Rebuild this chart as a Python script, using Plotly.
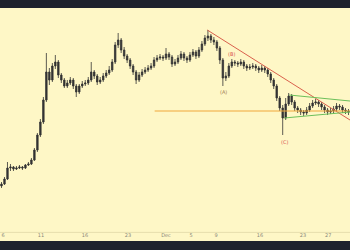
import plotly.graph_objects as go

# OHLC data (one candle per period)
opens = [64,66,71,82,83,81,82,83,82,85,86,90,100,115,128,150,178,170,184,188,
         175,170,164,167,170,164,158,164,166,167,170,178,174,168,170,174,177,180,188,205,
         210,200,194,190,184,178,170,175,178,180,182,184,190,192,193,192,196,193,186,188,
         192,196,192,190,195,198,194,200,206,212,214,210,208,202,190,172,174,184,188,187,
         186,188,184,182,183,184,182,180,182,180,176,170,164,152,142,132,146,154,148,142,
         140,138,137,140,144,147,148,146,143,140,138,139,141,144,143,140,139]
closes = [66,71,82,83,81,82,83,82,85,86,90,100,115,128,150,178,170,184,188,175,
          170,164,167,170,164,158,164,166,167,170,178,174,168,170,174,177,180,188,205,210,
          200,194,190,184,178,170,175,178,180,182,184,190,192,193,192,196,193,186,188,192,
          196,192,190,195,198,194,200,206,212,214,210,208,202,190,172,174,184,188,187,186,
          188,184,182,183,184,182,180,182,180,176,170,164,152,142,132,146,154,148,142,140,
          138,137,140,144,147,148,146,143,140,138,139,141,144,143,140,139,138]
highs = [68,73,88,86,84,84,85,84,86,88,92,102,117,131,153,197,182,187,195,190,
         177,172,170,173,172,166,166,169,170,173,188,180,176,173,177,180,184,191,208,217,
         212,203,196,192,186,180,178,181,183,185,187,193,195,196,195,202,198,195,191,195,
         199,198,194,198,201,200,203,209,215,220,216,213,210,204,192,178,187,191,190,189,
         191,190,186,186,187,186,184,185,184,182,178,172,166,154,145,152,157,156,150,144,
         142,140,143,147,150,151,150,148,145,142,142,144,147,146,145,142,141]
lows = [62,65,70,79,79,80,81,80,81,84,85,89,98,113,126,148,165,168,181,172,
        167,162,162,165,161,153,156,162,164,165,168,171,165,166,168,172,175,178,186,202,
        197,191,187,181,175,166,168,173,176,178,180,182,188,190,189,190,190,183,184,186,
        190,189,187,188,193,191,192,198,204,209,207,205,199,186,164,169,172,182,184,183,
        184,181,179,180,181,179,177,178,177,173,167,161,149,139,115,130,144,145,139,137,
        135,134,135,138,142,145,143,140,137,135,136,137,139,140,137,136,135]

tick_pos = [0.5, 13.2, 27.9, 42.3, 55.0, 63.4, 71.7, 86.4, 100.8, 109.2]
tick_labels = ["6", "11", "16", "23", "Dec", "5", "9", "16", "23", "27"]

# drawn trendlines (x in candle index, y in price)
red_x = [68.8, 116.5]; red_y = [220, 130]
orange_x = [51.2, 116.5]; orange_y = [139, 139]
green_up_x = [96.2, 116.5]; green_up_y = [155, 149]
green_lo_x = [94.5, 116.5]; green_lo_y = [132, 138]

labels_text = ["(B)", "(A)", "(C)"]
labels_x = [76.8, 74.2, 94.5]
labels_y = [196, 158, 108]
labels_col = ["#d9534f", "#a07850", "#d9534f"]

x = list(range(len(closes)))

fig = go.Figure()
fig.add_trace(go.Candlestick(
    x=x, open=opens, high=highs, low=lows, close=closes,
    increasing=dict(line=dict(color="#333333", width=0.8), fillcolor="#333333"),
    decreasing=dict(line=dict(color="#333333", width=0.8), fillcolor="#333333"),
    whiskerwidth=0, showlegend=False, hoverinfo="skip"))

for lx, ly, col, w in [(red_x, red_y, "#d9604c", 1),
                       (orange_x, orange_y, "#f0a83a", 1.2),
                       (green_up_x, green_up_y, "#6cbf5a", 1),
                       (green_lo_x, green_lo_y, "#6cbf5a", 1)]:
    fig.add_trace(go.Scatter(x=lx, y=ly, mode="lines",
                             line=dict(color=col, width=w),
                             showlegend=False, hoverinfo="skip"))

for t, ax, ay, c in zip(labels_text, labels_x, labels_y, labels_col):
    fig.add_annotation(x=ax, y=ay, text=t, showarrow=False,
                       font=dict(size=5, color=c, family="DejaVu Sans"))

fig.add_shape(type="line", xref="paper", yref="paper", x0=0, x1=1,
              y0=0.037, y1=0.037, line=dict(color="#e6dfae", width=1))

fig.update_layout(
    width=350, height=250,
    margin=dict(l=0, r=0, t=8, b=9),
    paper_bgcolor="#1e222d", plot_bgcolor="#fef7c6",
    xaxis=dict(range=[-0.5, 116.5], rangeslider=dict(visible=False),
               tickmode="array", tickvals=tick_pos, ticktext=tick_labels,
               ticklabelposition="inside", ticks="", showgrid=False,
               zeroline=False, showline=False,
               tickfont=dict(size=5, color="#8a8a7a", family="DejaVu Sans")),
    yaxis=dict(range=[9, 242], visible=False, showgrid=False, zeroline=False),
)

fig.write_html("out.html")
